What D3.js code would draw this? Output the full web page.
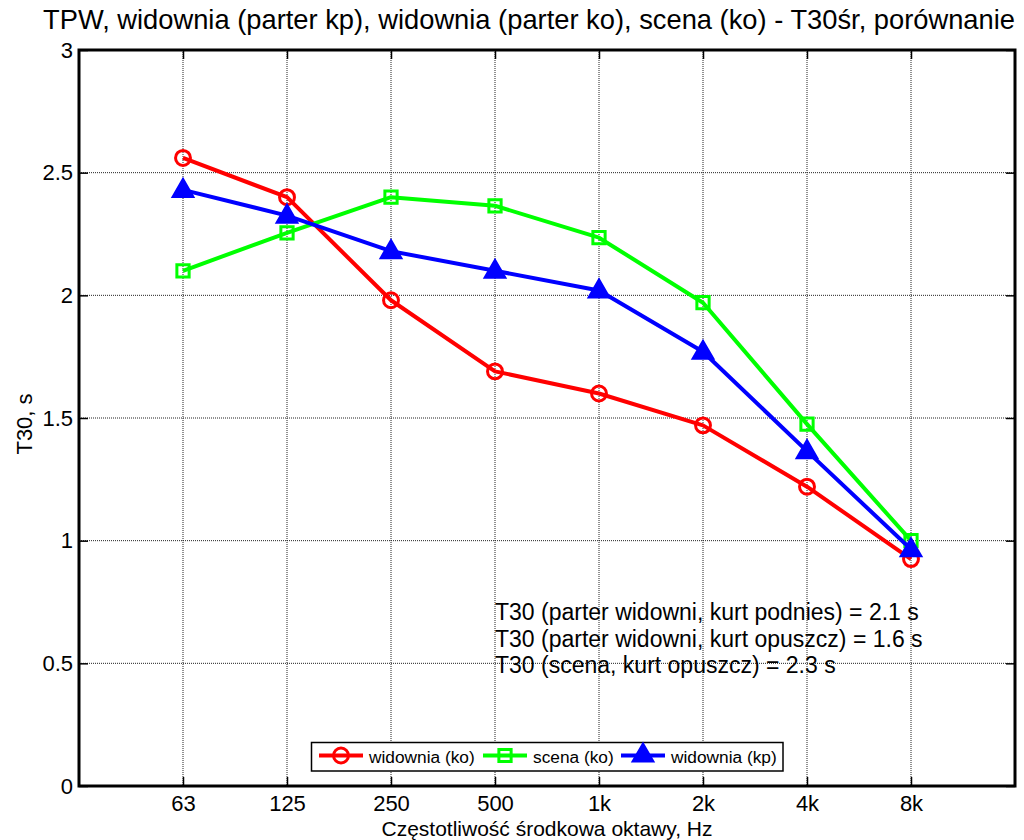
<!DOCTYPE html>
<html>
<head>
<meta charset="utf-8">
<script src="https://cdn.jsdelivr.net/npm/d3@7"></script>
<style>
	body { margin: 0; background: #fff; }
	svg text { font-family: "Liberation Sans", Arial, sans-serif; fill: #000; }
</style>
</head>
<body>
<div id="vis"></div>
<script>
const width = 1024;
const height = 840;

const bands = ["63", "125", "250", "500", "1k", "2k", "4k", "8k"];
const yTicks = [0, 0.5, 1, 1.5, 2, 2.5, 3];

const widowniaKo = [2.56, 2.40, 1.98, 1.69, 1.60, 1.47, 1.22, 0.925];
const scenaKo = [2.10, 2.255, 2.40, 2.365, 2.235, 1.97, 1.475, 1.00];
const widowniaKp = [2.43, 2.325, 2.18, 2.10, 2.02, 1.77, 1.365, 0.965];

const series = [
	{name: "widownia (ko)", values: widowniaKo, color: "#ff0000", marker: "circle"},
	{name: "scena (ko)", values: scenaKo, color: "#00ff00", marker: "square"},
	{name: "widownia (kp)", values: widowniaKp, color: "#0000ff", marker: "triangle"}
];

const notes = [
	"T30 (parter widowni, kurt podnies) = 2.1 s",
	"T30 (parter widowni, kurt opuszcz) = 1.6 s",
	"T30 (scena, kurt opuszcz) = 2.3 s"
];

const plot = {left: 79, right: 1015, top: 50, bottom: 786};

const svg = d3.select("#vis")
	.append("svg")
		.attr("width", width)
		.attr("height", height);

const x = d3.scaleLinear()
	.domain([0, bands.length + 1])
	.range([plot.left, plot.right]);

const y = d3.scaleLinear()
	.domain([0, 3])
	.range([plot.bottom, plot.top]);

// grid
svg.append("g")
	.selectAll("line")
	.data(bands)
	.enter()
	.append("line")
		.attr("x1", (d, i) => x(i + 1))
		.attr("x2", (d, i) => x(i + 1))
		.attr("y1", plot.top)
		.attr("y2", plot.bottom)
		.attr("stroke", "#222")
		.attr("stroke-width", 1)
		.attr("stroke-dasharray", "1,1");

svg.append("g")
	.selectAll("line")
	.data(yTicks.slice(1, -1))
	.enter()
	.append("line")
		.attr("x1", plot.left)
		.attr("x2", plot.right)
		.attr("y1", d => y(d))
		.attr("y2", d => y(d))
		.attr("stroke", "#222")
		.attr("stroke-width", 1)
		.attr("stroke-dasharray", "1,1");

// axes (ticks inward, labels outside)
const xAxis = svg.append("g")
	.attr("transform", `translate(0, ${plot.bottom})`)
	.call(d3.axisBottom(x)
		.tickValues(d3.range(1, bands.length + 1))
		.tickFormat(i => bands[i - 1])
		.tickSizeInner(-9)
		.tickSizeOuter(0)
		.tickPadding(9));

const xAxisTop = svg.append("g")
	.attr("transform", `translate(0, ${plot.top})`)
	.call(d3.axisTop(x)
		.tickValues(d3.range(1, bands.length + 1))
		.tickFormat("")
		.tickSizeInner(-9)
		.tickSizeOuter(0));

const yAxis = svg.append("g")
	.attr("transform", `translate(${plot.left}, 0)`)
	.call(d3.axisLeft(y)
		.tickValues(yTicks)
		.tickFormat(d => d)
		.tickSizeInner(-9)
		.tickSizeOuter(0)
		.tickPadding(6));

const yAxisRight = svg.append("g")
	.attr("transform", `translate(${plot.right}, 0)`)
	.call(d3.axisRight(y)
		.tickValues(yTicks)
		.tickFormat("")
		.tickSizeInner(-9)
		.tickSizeOuter(0));

[xAxis, xAxisTop, yAxis, yAxisRight].forEach(a => {
	a.select(".domain").remove();
	a.selectAll(".tick line").attr("stroke", "#000").attr("stroke-width", 1.5);
	a.selectAll("text").style("font-size", "22px").attr("fill", "#000");
});

// frame
svg.append("rect")
	.attr("x", plot.left)
	.attr("y", plot.top)
	.attr("width", plot.right - plot.left)
	.attr("height", plot.bottom - plot.top)
	.attr("fill", "none")
	.attr("stroke", "#000")
	.attr("stroke-width", 3);

// markers
const markerPath = (type, size) => {
	if (type === "circle") return d3.symbol(d3.symbolCircle, size)();
	if (type === "square") return d3.symbol(d3.symbolSquare, size)();
	return d3.symbol(d3.symbolTriangle, size)();
};
const markerSize = {circle: 175, square: 150, triangle: 160};

const line = d3.line()
	.x((d, i) => x(i + 1))
	.y(d => y(d));

series.forEach(s => {
	const g = svg.append("g");
	g.append("path")
		.datum(s.values)
		.attr("d", line)
		.attr("fill", "none")
		.attr("stroke", s.color)
		.attr("stroke-width", 4)
		.attr("stroke-linejoin", "round");

	g.selectAll("path.marker")
		.data(s.values)
		.enter()
		.append("path")
			.classed("marker", true)
			.attr("d", markerPath(s.marker, markerSize[s.marker]))
			.attr("transform", (d, i) => `translate(${x(i + 1)}, ${y(d) + (s.marker === "triangle" ? 1 : 0)})`)
			.attr("fill", s.marker === "triangle" ? s.color : "none")
			.attr("stroke", s.color)
			.attr("stroke-width", 3);
});

// annotations
svg.append("g")
	.selectAll("text")
	.data(notes)
	.enter()
	.append("text")
		.attr("x", 495)
		.attr("y", (d, i) => 620 + i * 26.5)
		.style("font-size", "23px")
		.text(d => d);

// title and axis labels
svg.append("text")
	.attr("x", 529)
	.attr("y", 29)
	.attr("text-anchor", "middle")
	.style("font-size", "27.3px")
	.text("TPW, widownia (parter kp), widownia (parter ko), scena (ko) - T30śr, porównanie");

svg.append("text")
	.attr("x", 547)
	.attr("y", 835.5)
	.attr("text-anchor", "middle")
	.style("font-size", "21px")
	.text("Częstotliwość środkowa oktawy, Hz");

svg.append("text")
	.attr("transform", `translate(32, 424) rotate(-90)`)
	.attr("text-anchor", "middle")
	.style("font-size", "22px")
	.text("T30, s");

// legend
const legend = svg.append("g");
legend.append("rect")
	.attr("x", 311.5)
	.attr("y", 742.5)
	.attr("width", 471.5)
	.attr("height", 28.5)
	.attr("fill", "#fff")
	.attr("stroke", "#000")
	.attr("stroke-width", 1.5);

const legendX = [319, 483, 621];
series.forEach((s, i) => {
	const lx = legendX[i];
	const ly = 755.5;
	legend.append("line")
		.attr("x1", lx)
		.attr("x2", lx + 44)
		.attr("y1", ly)
		.attr("y2", ly)
		.attr("stroke", s.color)
		.attr("stroke-width", 4);
	legend.append("path")
		.attr("d", markerPath(s.marker, markerSize[s.marker]))
		.attr("transform", `translate(${lx + 22}, ${ly})`)
		.attr("fill", s.marker === "triangle" ? s.color : "none")
		.attr("stroke", s.color)
		.attr("stroke-width", 3);
	legend.append("text")
		.attr("x", lx + 50)
		.attr("y", ly + 7)
		.style("font-size", "17.3px")
		.text(s.name);
});
</script>
</body>
</html>
